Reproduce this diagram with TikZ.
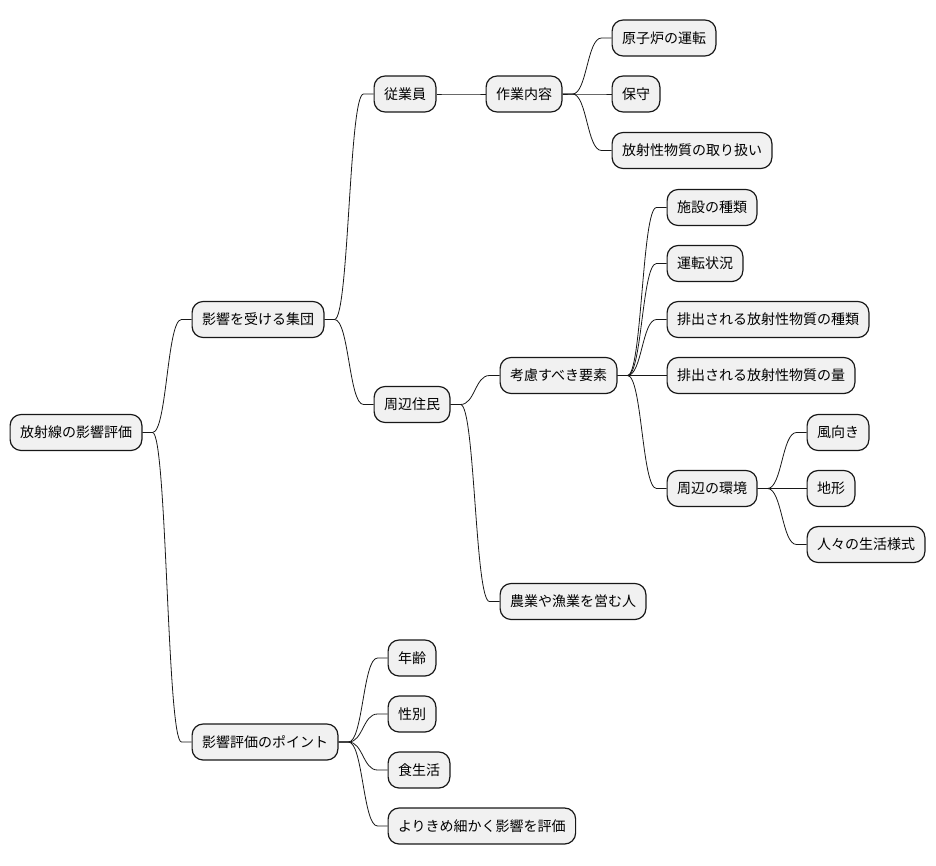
\documentclass[tikz,border=0pt]{standalone}
\usepackage{fontspec}
\setmainfont{Noto Sans CJK JP}
\usepackage{tikz}
\usetikzlibrary{positioning,calc}
\usepackage{xcolor}
\definecolor{boxfill}{HTML}{F1F1F1}
\definecolor{boxline}{HTML}{181818}

\begin{document}
\begin{tikzpicture}[
				node distance=49pt,
				topic/.style={draw=boxline,fill=boxfill,rectangle,rounded corners=11pt,line width=1.2pt,minimum height=36pt,inner xsep=9.9pt,font=\fontsize{14}{16}\selectfont},
				link/.style={draw=boxline,line width=0.8pt}
				]
				\useasboundingbox (0,0) rectangle (936pt,-865pt);
				
				% Radice
				\node[topic,anchor=west] (root) at (9.5pt,-432.5pt) {放射線の影響評価};
				
				% Primo livello
				\node[topic,right=of root,yshift=113pt] (affected) {影響を受ける集団};
				\node[topic,right=of root,yshift=-309.5pt] (points) {影響評価のポイント};
				
				% Gruppi
				\node[topic,right=of affected,yshift=225.5pt] (staff) {従業員};
				\node[topic,right=of affected,yshift=-85pt] (residents) {周辺住民};
				
				% Lavoratori
				\node[topic,right=of staff] (work) {作業内容};
				\node[topic,right=of work,yshift=56pt] (reactor) {原子炉の運転};
				\node[topic,right=of work] (upkeep) {保守};
				\node[topic,right=of work,yshift=-56.5pt] (handling) {放射性物質の取り扱い};
				
				% Residenti
				\node[topic,right=of residents,yshift=29pt] (factors) {考慮すべき要素};
				\node[topic,right=of residents,yshift=-197pt] (farmers) {農業や漁業を営む人};
				\node[topic,right=of factors,yshift=168pt] (facility) {施設の種類};
				\node[topic,right=of factors,yshift=112pt] (running) {運転状況};
				\node[topic,right=of factors,yshift=56pt] (kinds) {排出される放射性物質の種類};
				\node[topic,right=of factors] (amount) {排出される放射性物質の量};
				\node[topic,right=of factors,yshift=-113pt] (env) {周辺の環境};
				\node[topic,right=of env,yshift=56pt] (wind) {風向き};
				\node[topic,right=of env] (terrain) {地形};
				\node[topic,right=of env,yshift=-56pt] (life) {人々の生活様式};
				
				% Punti di valutazione
				\node[topic,right=of points,yshift=84pt] (age) {年齢};
				\node[topic,right=of points,yshift=28pt] (sex) {性別};
				\node[topic,right=of points,yshift=-28pt] (diet) {食生活};
				\node[topic,right=of points,yshift=-84pt] (finer) {よりきめ細かく影響を評価};
				
				% Rami
				\foreach \a/\b in {root/affected,root/points,affected/staff,affected/residents,
					staff/work,work/reactor,work/upkeep,work/handling,
					residents/factors,residents/farmers,factors/facility,factors/running,
					factors/kinds,factors/amount,factors/env,env/wind,env/terrain,env/life,
					points/age,points/sex,points/diet,points/finer}
				\draw[link] (\a.east) -- ++(10pt,0) .. controls ($(\a.east)+(24.5pt,0)$) and ($(\b.west)+(-24.5pt,0)$) .. ($(\b.west)+(-10pt,0)$) -- (\b.west);
				
			\end{tikzpicture}
\end{document}
